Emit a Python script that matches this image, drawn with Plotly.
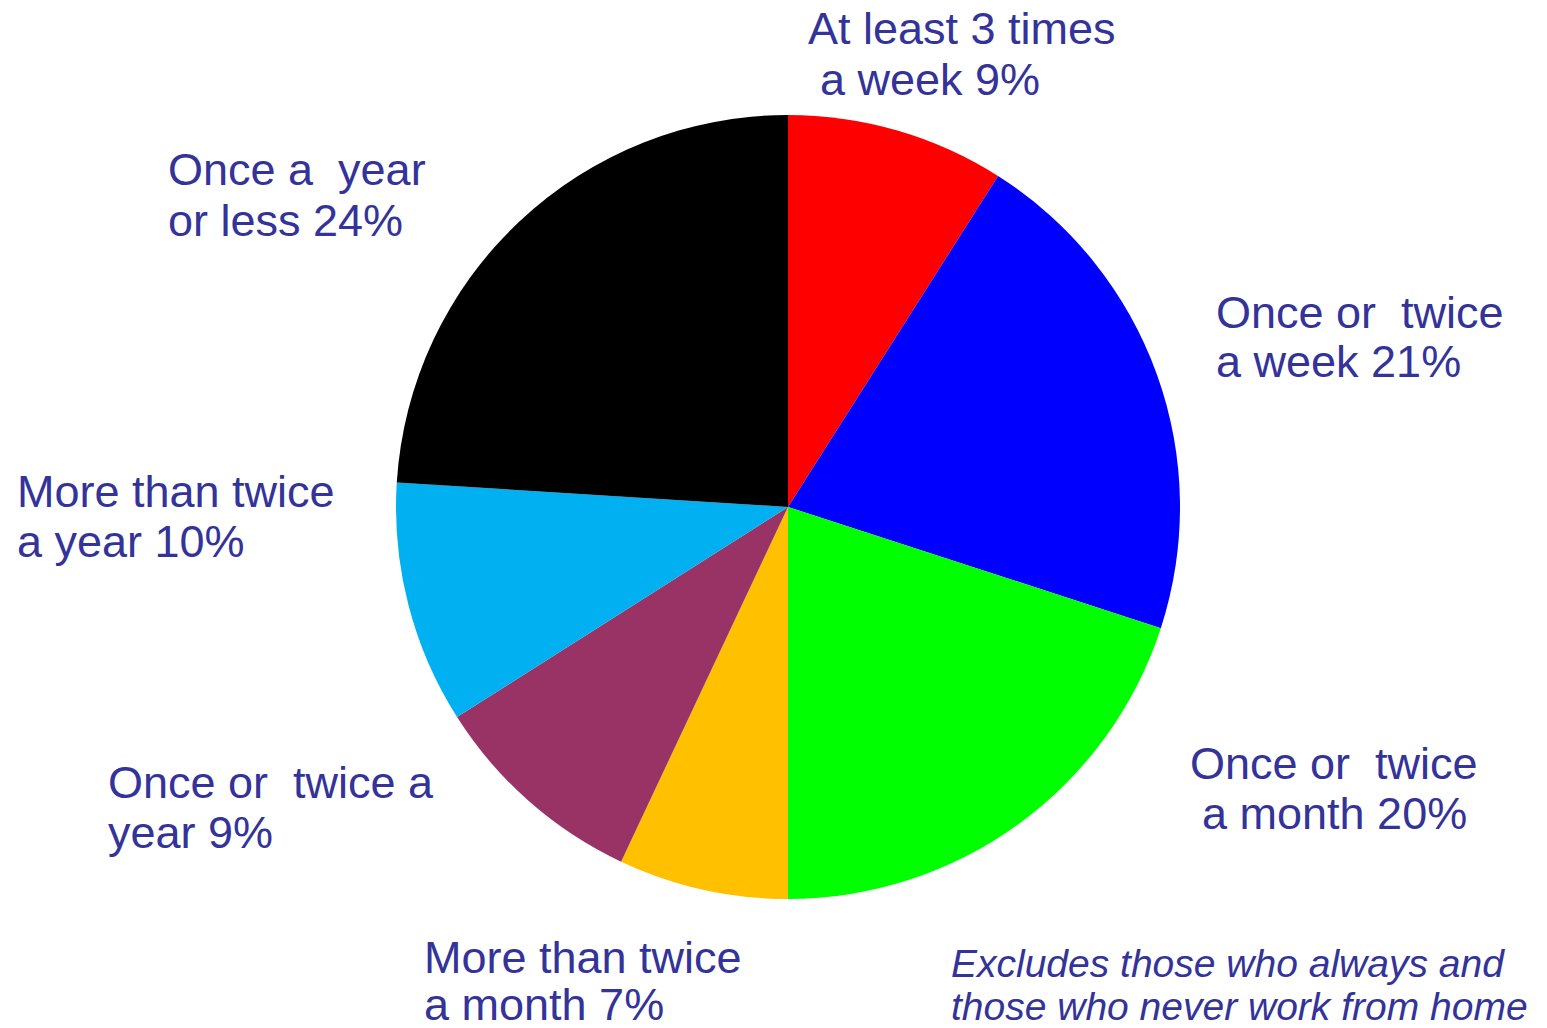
import plotly.graph_objects as go

categories = ["At least 3 times a week", "Once or twice a week", "Once or twice a month",
              "More than twice a month", "Once or twice a year", "More than twice a year",
              "Once a year or less"]
values = [9, 21, 20, 7, 9, 10, 24]
colors = ["#FF0000", "#0000FF", "#00FF00", "#FFC000", "#993366", "#00B0F0", "#000000"]

# label lines as shown in the chart
label_lines = [
    ["At least 3 times", "a week 9%"],
    ["Once or  twice", "a week 21%"],
    ["Once or  twice", "a month 20%"],
    ["More than twice", "a month 7%"],
    ["Once or  twice a", "year 9%"],
    ["More than twice", "a year 10%"],
    ["Once a  year", "or less 24%"],
]
# pixel anchors (left x of each line, vertical centre of each line)
label_pos = [
    [(806, 28), (818, 80)],
    [(1214, 312), (1214, 361)],
    [(1188, 763), (1200, 813)],
    [(422, 957), (422, 1004)],
    [(106, 782), (106, 832)],
    [(15, 491), (15, 541)],
    [(166, 170), (166, 220)],
]
note_lines = ["Excludes those who always and", "those who never work from home"]
note_pos = [(949, 963), (949, 1006)]

W, H = 1547, 1028
cx, cy, r = 788, 507, 392

fig = go.Figure(go.Pie(
    labels=categories, values=values, sort=False, direction="clockwise", rotation=0,
    marker=dict(colors=colors, line=dict(width=0)), textinfo="none", showlegend=False,
    domain=dict(x=[(cx - r) / W, (cx + r) / W], y=[(H - cy - r) / H, (H - cy + r) / H]),
))

annotations = []
for lines, poss in zip(label_lines, label_pos):
    for text, (px, py) in zip(lines, poss):
        annotations.append(dict(
            text=text.replace("  ", "&nbsp; "), x=px / W, y=1 - py / H, xref="paper", yref="paper",
            xanchor="left", yanchor="middle", showarrow=False, align="left",
            font=dict(family="Liberation Sans, Arial, sans-serif", size=45, color="#333399"),
        ))
for text, (px, py) in zip(note_lines, note_pos):
    annotations.append(dict(
        text="<i>" + text + "</i>", x=px / W, y=1 - py / H, xref="paper", yref="paper",
        xanchor="left", yanchor="middle", showarrow=False, align="left",
        font=dict(family="Liberation Sans, Arial, sans-serif", size=39, color="#333399"),
    ))

fig.update_layout(
    width=W, height=H, margin=dict(l=0, r=0, t=0, b=0),
    paper_bgcolor="white", plot_bgcolor="white", annotations=annotations,
)
fig.write_html("out.html", config={"displayModeBar": False},
               post_script="document.body.style.margin='0';")
